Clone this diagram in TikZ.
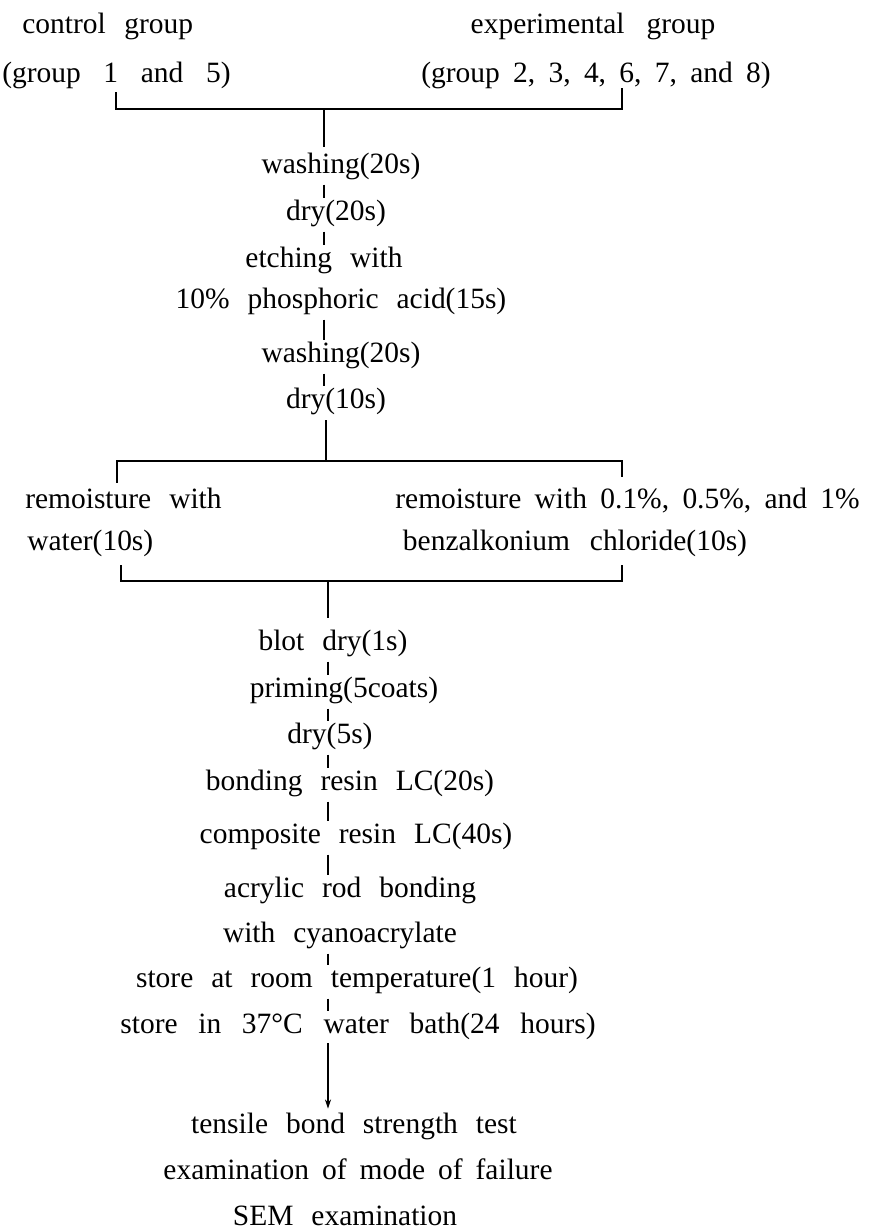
\documentclass[tikz,border=0pt]{standalone}
\usepackage{fontspec}
\setmainfont{Liberation Serif}
\usetikzlibrary{arrows.meta}
\newcommand\wsp[1]{\spaceskip=#1pt\relax}
\begin{document}
\begin{tikzpicture}[x=0.75pt,y=-0.75pt,
  txt/.style={inner sep=0pt, anchor=base, text height=15pt, text depth=4.5pt,
    font=\fontsize{22.1pt}{26pt}\selectfont},
  ln/.style={line width=1pt},
  seg/.style={ln, shorten <=4pt, shorten >=1pt}]
\fill[white] (0,0) rectangle (869,1232);
% top groups
\node[txt, anchor=base west] (cg) at (22,33) {\wsp{14}control group};
\node[txt, anchor=base west] (g15) at (2,82) {\wsp{17}(group 1 and 5)};
\node[txt] (eg) at (593,33) {\wsp{16.5}experimental group};
\node[txt] (g2) at (596,82) {\wsp{10}(group 2, 3, 4, 6, 7, and 8)};
% first column
\node[txt] (w1) at (341,173) {washing(20s)};
\node[txt] (d1) at (336,220) {dry(20s)};
\node[txt] (e1) at (324,267) {\wsp{13.5}etching with};
\node[txt] (e2) at (341,308) {\wsp{13.5}10\% phosphoric acid(15s)};
\node[txt] (w2) at (341,362) {washing(20s)};
\node[txt] (d2) at (336,408) {dry(10s)};
% branches
\node[txt, anchor=base west] (r1) at (25,508) {\wsp{13.5}remoisture with};
\node[txt, anchor=base west] (r2) at (27,550) {water(10s)};
\node[txt, anchor=base east] (b1) at (860,508) {\wsp{10}remoisture with 0.1\%, 0.5\%, and 1\%};
\node[txt] (b2) at (575,550) {\wsp{15}benzalkonium chloride(10s)};
% second column
\node[txt] (s1) at (333,650) {\wsp{13.5}blot dry(1s)};
\node[txt] (s2) at (344,697) {priming(5coats)};
\node[txt] (s3) at (330,743) {dry(5s)};
\node[txt] (s4) at (350,790) {\wsp{13.5}bonding resin LC(20s)};
\node[txt] (s5) at (356,843) {\wsp{13.5}composite resin LC(40s)};
\node[txt] (s6) at (350,897) {\wsp{13.5}acrylic rod bonding};
\node[txt] (s7) at (340,942) {\wsp{13.5}with cyanoacrylate};
\node[txt] (s8) at (357,987) {\wsp{13.5}store at room temperature(1 hour)};
\node[txt] (s9) at (358,1033) {\wsp{15.5}store in 37°C water bath(24 hours)};
\node[txt] (f1) at (354,1133) {\wsp{13.5}tensile bond strength test};
\node[txt] (f2) at (358,1179) {\wsp{9.75}examination of mode of failure};
\node[txt] (f3) at (345,1225) {\wsp{13.5}SEM examination};
% coordinates
\coordinate (axT) at (324,0);
\coordinate (axB) at (328,0);
\coordinate (tL) at (116,109);
\coordinate (tR) at (622,109);
\coordinate (tM) at (324,109);
\coordinate (mL) at (117,461);
\coordinate (mR) at (622,461);
\coordinate (mM) at (326,461);
\coordinate (nL) at (121,581);
\coordinate (nR) at (622,581);
\coordinate (nM) at (328,581);
% top bracket
\draw[ln, shorten <=3pt] (g15.south -| tL) -- (tL) -- (tR) -- (g2.south -| tR);
\draw[ln, shorten >=4.5pt] (tM) -- (w1.north -| axT);
\draw[seg] (w1.south -| axT) -- (d1.north -| axT);
\draw[seg] (d1.south -| axT) -- (e1.north -| axT);
\draw[seg] (e2.south -| axT) -- (w2.north -| axT);
\draw[seg] (w2.south -| axT) -- (d2.north -| axT);
% middle bracket
\draw[ln, shorten <=4.5pt] (d2.south -| mM) -- (mM);
\draw[ln, shorten <=3.75pt, shorten >=8pt] (r1.north -| mL) -- (mL) -- (mR) -- (b1.north -| mR);
% bottom bracket
\draw[ln, shorten <=6.75pt, shorten >=6.75pt] (r2.south -| nL) -- (nL) -- (nR) -- (b2.south -| nR);
\draw[ln, shorten >=9pt] (nM) -- (s1.north -| axB);
\draw[seg] (s1.south -| axB) -- (s2.north -| axB);
\draw[seg] (s2.south -| axB) -- (s3.north -| axB);
\draw[seg] (s3.south -| axB) -- (s4.north -| axB);
\draw[seg] (s4.south -| axB) -- (s5.north -| axB);
\draw[seg] (s5.south -| axB) -- (s6.north -| axB);
\draw[seg] (s7.south -| axB) -- (s8.north -| axB);
\draw[seg] (s8.south -| axB) -- (s9.north -| axB);
\draw[ln, shorten <=3pt, shorten >=3pt, -{Stealth[length=7pt,width=4.5pt]}] (s9.south -| axB) -- (f1.north -| axB);
\end{tikzpicture}
\end{document}
